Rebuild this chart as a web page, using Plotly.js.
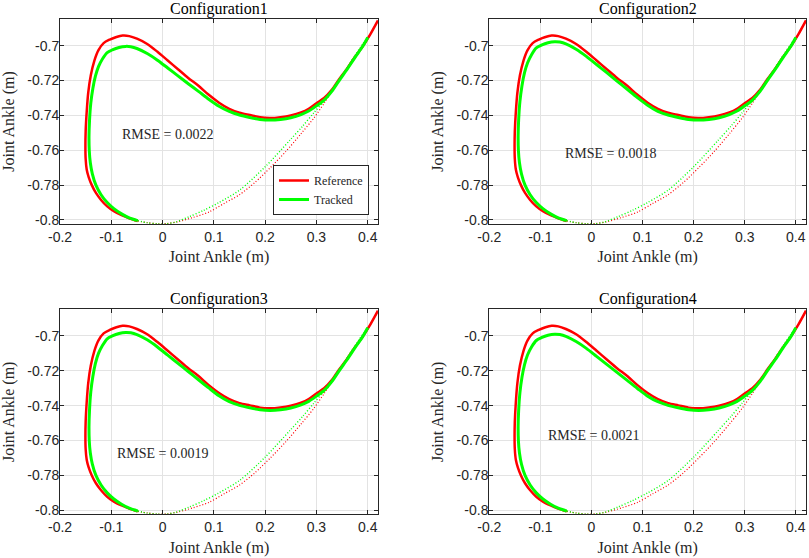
<!DOCTYPE html>
<html>
<head>
<meta charset="utf-8">
<script src="https://cdn.plot.ly/plotly-3.0.1.min.js"></script>
<style>
	html, body { margin: 0; padding: 0; background: #fff; }
	#chart { width: 809px; height: 558px; }
</style>
</head>
<body>
<div id="chart"></div>
<script>
// panel titles and RMSE values
const configNames = ["Configuration1", "Configuration2", "Configuration3", "Configuration4"];
const rmseText = ["RMSE = 0.0022", "RMSE = 0.0018", "RMSE = 0.0019", "RMSE = 0.0021"];
const rmseX = [-0.083, -0.056, -0.093, -0.088];
const rmseY = [-0.751, -0.7616, -0.7674, -0.757];

// reference path, solid part (same in every panel)
const refX = [0.420, 0.405, 0.390, 0.375, 0.360, 0.345, 0.330, 0.315, 0.300, 0.285, 0.270, 0.250, 0.230, 0.210, 0.190, 0.170, 0.150, 0.130, 0.110, 0.090, 0.070, 0.050, 0.030, 0.010, -0.010, -0.030, -0.050, -0.065, -0.078, -0.090, -0.103, -0.115, -0.125, -0.133, -0.140, -0.145, -0.148, -0.150, -0.1505, -0.150, -0.148, -0.144, -0.138, -0.130, -0.120, -0.108, -0.095, -0.080, -0.065, -0.0485];
const refY = [-0.6855, -0.6935, -0.7005, -0.7065, -0.7130, -0.7190, -0.7253, -0.7300, -0.7330, -0.7362, -0.7383, -0.7400, -0.7410, -0.7415, -0.7411, -0.7398, -0.7385, -0.7362, -0.7327, -0.7282, -0.7230, -0.7185, -0.7135, -0.7085, -0.7035, -0.6990, -0.6960, -0.6945, -0.6942, -0.6950, -0.6965, -0.6985, -0.7025, -0.7085, -0.7170, -0.7270, -0.7380, -0.7490, -0.7580, -0.7650, -0.7710, -0.7755, -0.7800, -0.7845, -0.7885, -0.7922, -0.7950, -0.7972, -0.7990, -0.8006];

// reference path, dotted part
const refDotX = [-0.0485, -0.030, -0.010, 0.010, 0.030, 0.060, 0.090, 0.120, 0.150, 0.180, 0.210, 0.240, 0.270, 0.295, 0.315, 0.330, 0.345, 0.360, 0.375, 0.390, 0.405, 0.420];
const refDotY = [-0.8006, -0.8015, -0.8022, -0.8020, -0.8010, -0.7985, -0.7955, -0.7905, -0.7855, -0.7785, -0.7700, -0.7608, -0.7505, -0.7415, -0.7330, -0.7262, -0.7195, -0.7132, -0.7067, -0.7006, -0.6936, -0.6855];

// tracked path, solid part (x shared, y per configuration)
const trkX = [0.400, 0.390, 0.375, 0.360, 0.345, 0.330, 0.315, 0.300, 0.285, 0.270, 0.250, 0.230, 0.210, 0.190, 0.170, 0.150, 0.130, 0.110, 0.090, 0.070, 0.050, 0.030, 0.010, -0.010, -0.030, -0.050, -0.062, -0.072, -0.085, -0.098, -0.108, -0.117, -0.125, -0.131, -0.136, -0.140, -0.1425, -0.1435, -0.143, -0.141, -0.137, -0.130, -0.120, -0.108, -0.095, -0.080, -0.065, -0.0485];
const trkY1 = [-0.6953, -0.7005, -0.7068, -0.7135, -0.7197, -0.7262, -0.7312, -0.7345, -0.7375, -0.7395, -0.7413, -0.7423, -0.7427, -0.7423, -0.7412, -0.7398, -0.7377, -0.7347, -0.7307, -0.7262, -0.7218, -0.7173, -0.7128, -0.7083, -0.7045, -0.7016, -0.7006, -0.7004, -0.7010, -0.7024, -0.7040, -0.7075, -0.7120, -0.7175, -0.7245, -0.7330, -0.7430, -0.7520, -0.7600, -0.7670, -0.7735, -0.7800, -0.7855, -0.7900, -0.7935, -0.7965, -0.7988, -0.8004];
const trkY2 = [-0.6953, -0.7005, -0.7068, -0.7135, -0.7197, -0.7262, -0.7312, -0.7345, -0.7375, -0.7395, -0.7413, -0.7423, -0.7427, -0.7423, -0.7412, -0.7398, -0.7377, -0.7342, -0.7297, -0.7250, -0.7203, -0.7155, -0.7108, -0.7061, -0.7020, -0.6989, -0.6979, -0.6977, -0.6983, -0.6997, -0.7013, -0.7050, -0.7098, -0.7155, -0.7230, -0.7320, -0.7425, -0.7520, -0.7600, -0.7670, -0.7735, -0.7800, -0.7855, -0.7900, -0.7935, -0.7965, -0.7988, -0.8004];
const trkY3 = [-0.6953, -0.7005, -0.7068, -0.7135, -0.7197, -0.7262, -0.7312, -0.7345, -0.7375, -0.7395, -0.7413, -0.7423, -0.7427, -0.7423, -0.7412, -0.7398, -0.7377, -0.7343, -0.7298, -0.7251, -0.7204, -0.7157, -0.7110, -0.7063, -0.7022, -0.6992, -0.6982, -0.6980, -0.6986, -0.7000, -0.7016, -0.7053, -0.7100, -0.7157, -0.7232, -0.7321, -0.7425, -0.7520, -0.7600, -0.7670, -0.7735, -0.7800, -0.7855, -0.7900, -0.7935, -0.7965, -0.7988, -0.8004];
const trkY4 = [-0.6953, -0.7005, -0.7068, -0.7135, -0.7197, -0.7262, -0.7312, -0.7345, -0.7375, -0.7395, -0.7413, -0.7423, -0.7427, -0.7423, -0.7412, -0.7398, -0.7377, -0.7345, -0.7301, -0.7255, -0.7209, -0.7163, -0.7117, -0.7071, -0.7032, -0.7002, -0.6992, -0.6990, -0.6996, -0.7010, -0.7026, -0.7062, -0.7108, -0.7164, -0.7237, -0.7325, -0.7427, -0.7520, -0.7600, -0.7670, -0.7735, -0.7800, -0.7855, -0.7900, -0.7935, -0.7965, -0.7988, -0.8004];

// tracked path, dotted part
const trkDotX = [-0.0485, -0.030, -0.010, 0.005, 0.025, 0.052, 0.080, 0.110, 0.150, 0.200, 0.248, 0.273, 0.295, 0.315, 0.330, 0.345, 0.360, 0.375, 0.390, 0.400];
const trkDotY = [-0.8004, -0.8016, -0.8022, -0.8023, -0.8012, -0.7981, -0.7945, -0.7900, -0.7829, -0.7695, -0.7543, -0.7462, -0.7385, -0.7315, -0.7255, -0.7192, -0.7125, -0.7057, -0.6992, -0.6953];

// axis ticks
const xTicks = [-0.2, -0.1, 0, 0.1, 0.2, 0.3, 0.4];
const xTickText = ["-0.2", "-0.1", "0", "0.1", "0.2", "0.3", "0.4"];
const yTicks = [-0.8, -0.78, -0.76, -0.74, -0.72, -0.7];
const yTickText = ["-0.8", "-0.78", "-0.76", "-0.74", "-0.72", "-0.7"];

const trkYs = [trkY1, trkY2, trkY3, trkY4];

const RED = '#ff0000';
const GREEN = '#00ff00';
const INK = '#262626';
const SERIF = 'Liberation Serif, Times New Roman, serif';
const SANS = 'Liberation Sans, Arial, sans-serif';

// panel boxes in paper fractions
const xDomains = [[0.0742, 0.4672], [0.6048, 0.9963], [0.0742, 0.4672], [0.6048, 0.9963]];
const yDomains = [[0.5986, 0.9659], [0.5986, 0.9659], [0.0783, 0.4457], [0.0783, 0.4457]];

const traces = [];
const annotations = [];
const layout = {
	width: 809,
	height: 558,
	margin: {l: 0, r: 0, t: 0, b: 0},
	paper_bgcolor: '#fff',
	plot_bgcolor: '#fff',
	font: {family: SANS, size: 13, color: INK},
	showlegend: true,
	legend: {
		x: 0.4561, y: 0.6147, xanchor: 'right', yanchor: 'bottom',
		bgcolor: '#fff', bordercolor: INK, borderwidth: 1,
		font: {family: SERIF, size: 12, color: INK},
		tracegroupgap: 0
	},
	annotations
};

configNames.forEach((name, i) => {
	const n = i === 0 ? '' : String(i + 1);
	const xa = 'x' + n, ya = 'y' + n;
	const first = i === 0;

	traces.push({
		x: refX, y: refY, xaxis: xa, yaxis: ya, mode: 'lines', name: 'Reference',
		line: {color: RED, width: 2.5, shape: 'spline', smoothing: 0.8},
		showlegend: first, hoverinfo: 'skip'
	});
	traces.push({
		x: refDotX, y: refDotY, xaxis: xa, yaxis: ya, mode: 'lines', name: 'Reference',
		line: {color: RED, width: 1.2, dash: '1px,2px', shape: 'spline', smoothing: 0.8},
		showlegend: false, hoverinfo: 'skip'
	});
	traces.push({
		x: trkX, y: trkYs[i], xaxis: xa, yaxis: ya, mode: 'lines', name: 'Tracked',
		line: {color: GREEN, width: 3, shape: 'spline', smoothing: 0.8},
		showlegend: first, hoverinfo: 'skip'
	});
	traces.push({
		x: trkDotX, y: trkDotY, xaxis: xa, yaxis: ya, mode: 'lines', name: 'Tracked',
		line: {color: GREEN, width: 1.4, dash: '1px,2px', shape: 'spline', smoothing: 0.8},
		showlegend: false, hoverinfo: 'skip'
	});

	const axisCommon = {
		showline: true, linecolor: INK, linewidth: 1, mirror: 'ticks',
		ticks: 'inside', ticklen: 4, tickcolor: INK,
		showgrid: true, gridcolor: '#e3e3e3', gridwidth: 1, zeroline: false,
		tickfont: {family: SANS, size: 14, color: INK}
	};
	layout['xaxis' + n] = Object.assign({}, axisCommon, {
		domain: xDomains[i], anchor: ya, range: [-0.2, 0.42],
		tickvals: xTicks, ticktext: xTickText,
		title: {text: 'Joint Ankle (m)', font: {family: SERIF, size: 16, color: INK}, standoff: 7}
	});
	layout['yaxis' + n] = Object.assign({}, axisCommon, {
		domain: yDomains[i], anchor: xa, range: [-0.8023, -0.6847],
		tickvals: yTicks, ticktext: yTickText, ticklabelstandoff: -3,
		title: {text: 'Joint Ankle (m)', font: {family: SERIF, size: 16, color: INK}, standoff: 8}
	});

	annotations.push({
		xref: 'paper', yref: 'paper',
		x: (xDomains[i][0] + xDomains[i][1]) / 2, y: yDomains[i][1],
		xanchor: 'center', yanchor: 'bottom', yshift: -1,
		text: name, showarrow: false,
		font: {family: SERIF, size: 16, color: '#000'}
	});
	annotations.push({
		xref: xa, yref: ya, x: rmseX[i], y: rmseY[i],
		xanchor: 'left', yanchor: 'middle',
		text: rmseText[i], showarrow: false,
		font: {family: SERIF, size: 14, color: INK}
	});
});

Plotly.newPlot('chart', traces, layout, {displayModeBar: false, staticPlot: true});
</script>
</body>
</html>
